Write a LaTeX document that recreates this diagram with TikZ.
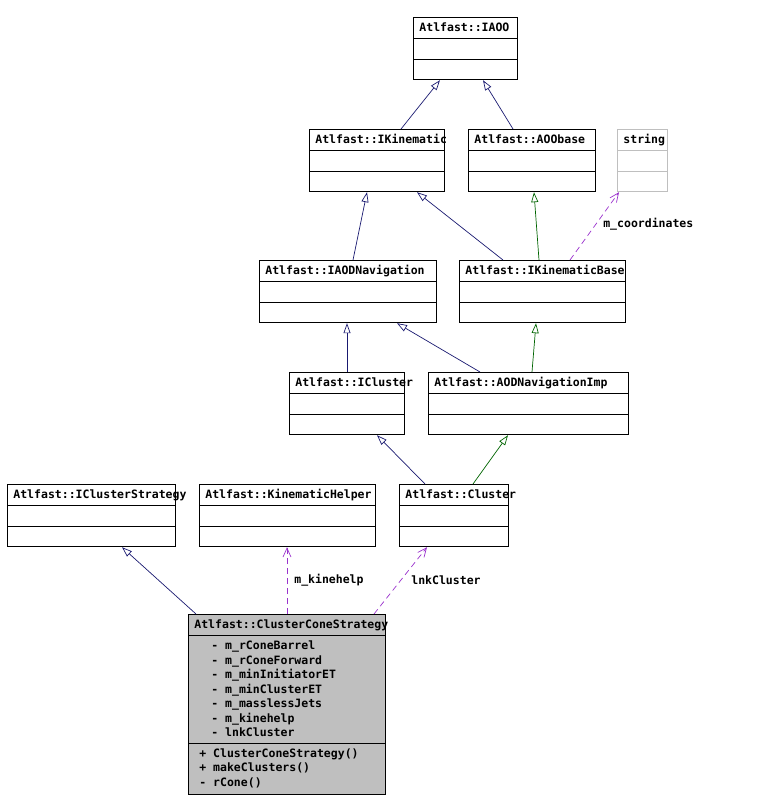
\documentclass[tikz,border=0pt]{standalone}
\usepackage{fontspec}
\setmonofont{DejaVu Sans Mono}
\usetikzlibrary{arrows.meta,shapes.multipart}

\definecolor{pubblue}{RGB}{25,25,112}
\definecolor{protgreen}{RGB}{0,100,0}
\definecolor{usepurple}{RGB}{154,50,205}

\begin{document}
\begin{tikzpicture}[x=1pt,y=-1pt,
		cls/.style={rectangle split,rectangle split parts=3,draw,line width=0.8pt,
			anchor=north west,inner xsep=6pt,inner ysep=0pt,
			font=\ttfamily\bfseries\fontsize{11.5}{14.5}\selectfont},
		pub/.style={pubblue,line width=0.7pt,-{Triangle[open,length=10pt,width=7pt]}},
		prot/.style={protgreen,line width=0.7pt,-{Triangle[open,length=10pt,width=7pt]}},
		uses/.style={usepurple,line width=0.7pt,dash pattern=on 6pt off 4pt,
			-{Straight Barb[length=9pt,width=8pt]}},
		lbl/.style={black,inner sep=0pt,font=\ttfamily\bfseries\fontsize{11.5}{14.5}\selectfont}]
		\useasboundingbox (0,0) rectangle (756,809);

		% classes
		\node[cls,text width=92pt] (iaoo) at (413,17)
			{\rule[-6pt]{0pt}{20pt}Atlfast::IAOO \nodepart{two}\rule{0pt}{20pt} \nodepart{three}\rule{0pt}{20pt}};
		\node[cls,text width=123pt] (ikin) at (309,129)
			{\rule[-6pt]{0pt}{20pt}Atlfast::IKinematic \nodepart{two}\rule{0pt}{20pt} \nodepart{three}\rule{0pt}{20pt}};
		\node[cls,text width=115pt] (aoob) at (468,129)
			{\rule[-6pt]{0pt}{20pt}Atlfast::AOObase \nodepart{two}\rule{0pt}{20pt} \nodepart{three}\rule{0pt}{20pt}};
		\node[cls,draw=black!25,text width=38pt] (str) at (617,129)
			{\rule[-6pt]{0pt}{20pt}string \nodepart{two}\rule{0pt}{20pt} \nodepart{three}\rule{0pt}{20pt}};
		\node[cls,text width=165pt] (iaodnav) at (259,260)
			{\rule[-6pt]{0pt}{20pt}Atlfast::IAODNavigation \nodepart{two}\rule{0pt}{20pt} \nodepart{three}\rule{0pt}{20pt}};
		\node[cls,text width=154pt] (ikinb) at (459,260)
			{\rule[-6pt]{0pt}{20pt}Atlfast::IKinematicBase \nodepart{two}\rule{0pt}{20pt} \nodepart{three}\rule{0pt}{20pt}};
		\node[cls,text width=103pt] (icl) at (289,372)
			{\rule[-6pt]{0pt}{20pt}Atlfast::ICluster \nodepart{two}\rule{0pt}{20pt} \nodepart{three}\rule{0pt}{20pt}};
		\node[cls,text width=188pt] (aodimp) at (428,372)
			{\rule[-6pt]{0pt}{20pt}Atlfast::AODNavigationImp \nodepart{two}\rule{0pt}{20pt} \nodepart{three}\rule{0pt}{20pt}};
		\node[cls,text width=156pt] (icls) at (7,484)
			{\rule[-6pt]{0pt}{20pt}Atlfast::IClusterStrategy \nodepart{two}\rule{0pt}{20pt} \nodepart{three}\rule{0pt}{20pt}};
		\node[cls,text width=164pt] (kine) at (199,484)
			{\rule[-6pt]{0pt}{20pt}Atlfast::KinematicHelper \nodepart{two}\rule{0pt}{20pt} \nodepart{three}\rule{0pt}{20pt}};
		\node[cls,text width=97pt] (cluster) at (399,484)
			{\rule[-6pt]{0pt}{20pt}Atlfast::Cluster \nodepart{two}\rule{0pt}{20pt} \nodepart{three}\rule{0pt}{20pt}};
		\node[cls,fill=black!25,text width=185pt] (ccs) at (188,614) {%
			\rule[-6pt]{0pt}{20pt}Atlfast::ClusterConeStrategy
			\nodepart{two}\spaceskip=6.9pt\relax
			\rule{0pt}{14pt}\hspace*{17pt}- m\_rConeBarrel\\
			\hspace*{17pt}- m\_rConeForward\\
			\hspace*{17pt}- m\_minInitiatorET\\
			\hspace*{17pt}- m\_minClusterET\\
			\hspace*{17pt}- m\_masslessJets\\
			\hspace*{17pt}- m\_kinehelp\\
			\hspace*{17pt}- lnkCluster\rule[-6pt]{0pt}{0pt}
			\nodepart{three}\spaceskip=6.9pt\relax
			\rule{0pt}{14pt}\hspace*{5pt}+ ClusterConeStrategy()\\
			\hspace*{5pt}+ makeClusters()\\
			\hspace*{5pt}- rCone()\rule[-8pt]{0pt}{0pt}};

		% inheritance
		\draw[pub] ([xshift=92pt]ikin.north west) -- ([xshift=27pt]iaoo.south west);
		\draw[pub] ([xshift=45pt]aoob.north west) -- ([xshift=70pt]iaoo.south west);
		\draw[pub] ([xshift=94pt]iaodnav.north west) -- ([xshift=58pt]ikin.south west);
		\draw[pub] ([xshift=44pt]ikinb.north west) -- ([xshift=108pt]ikin.south west);
		\draw[prot] ([xshift=80pt]ikinb.north west) -- ([xshift=66pt]aoob.south west);
		\draw[pub] ([xshift=58pt]icl.north west) -- ([xshift=88pt]iaodnav.south west);
		\draw[pub] ([xshift=52pt]aodimp.north west) -- ([xshift=138pt]iaodnav.south west);
		\draw[prot] ([xshift=104pt]aodimp.north west) -- ([xshift=77pt]ikinb.south west);
		\draw[pub] ([xshift=26pt]cluster.north west) -- ([xshift=88pt]icl.south west);
		\draw[prot] ([xshift=74pt]cluster.north west) -- ([xshift=80pt]aodimp.south west);
		\draw[pub] ([xshift=8pt]ccs.north west) -- ([xshift=115pt]icls.south west);

		% usage
		\draw[uses] ([xshift=111pt]ikinb.north west) -- node[lbl,pos=0.53,right=7pt] {m\_coordinates} ([xshift=2pt]str.south west);
		\draw[uses] ([xshift=99pt]ccs.north west) -- node[lbl,pos=0.51,right=7pt] {m\_kinehelp} ([xshift=88pt]kine.south west);
		\draw[uses] ([xshift=186pt]ccs.north west) -- node[lbl,pos=0.51,right=10pt] {lnkCluster} ([xshift=28pt]cluster.south west);
\end{tikzpicture}
\end{document}
